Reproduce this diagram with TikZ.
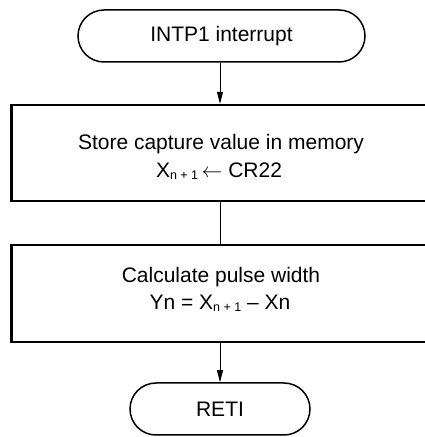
\documentclass[tikz,border=0pt]{standalone}
\usepackage{fontspec}
\setmainfont{Liberation Sans}
\usetikzlibrary{arrows.meta}
\newcommand{\subnp}{\raisebox{-1.5pt}{\fontsize{12.5}{14}\selectfont n + 1}}
\begin{document}
\begin{tikzpicture}[x=1pt,y=1pt,
  term/.style={draw, line width=1.5pt, rounded corners=26pt, minimum height=52pt, inner sep=0pt, font=\fontsize{21}{24}\selectfont},
  procbox/.style={draw, line width=2.4pt, minimum width=420pt, minimum height=96pt, inner sep=0pt},
  txt/.style={anchor=base, inner sep=0pt, font=\fontsize{21}{24}\selectfont},
  conn/.style={line width=0.9pt},
  arr/.style={conn, -{Triangle[length=12pt,width=6pt]}}]
\useasboundingbox (0,0) rectangle (424,437);
\node[term, minimum width=287pt] (start) at (221.5,401) {INTP1 interrupt};
\node[procbox] (store) at (221.5,284) {};
\node[txt] (storea) at (221,287) {Store capture value in memory};
\node[txt] (storeb) at (219,259) {X\subnp\,$\leftarrow$ CR22};
\node[procbox, minimum height=97pt] (calc) at (221.5,143.5) {};
\node[txt] (calca) at (221,154) {Calculate pulse width};
\node[txt] (calcb) at (220,127.5) {Yn = X\subnp\ – Xn};
\node[term, minimum width=180pt] (reti) at (220,28) {RETI};
\draw[arr] (start.south -| 220,0) -- (220,0 |- store.north);
\draw[conn] (store.south -| 220,0) -- (220,0 |- calc.north);
\draw[arr] (calc.south -| 220,0) -- (reti.north);
\end{tikzpicture}
\end{document}
